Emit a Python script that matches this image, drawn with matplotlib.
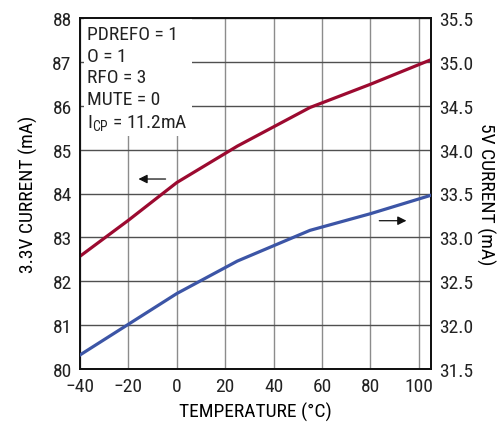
import numpy as np
import matplotlib
matplotlib.use('Agg')
import matplotlib.pyplot as plt
from matplotlib.patches import Rectangle

# data
temp = [-40, -20, 0, 25, 55, 80, 105]
i33 = [82.57, 83.39, 84.25, 85.08, 85.96, 86.49, 87.05]   # left axis
i5 = [31.66, 32.01, 32.36, 32.73, 33.08, 33.27, 33.48]    # right axis

xticks = [-40, -20, 0, 20, 40, 60, 80, 100]
lticks = [80, 81, 82, 83, 84, 85, 86, 87, 88]
rticks = [31.5, 32.0, 32.5, 33.0, 33.5, 34.0, 34.5, 35.0, 35.5]
notes = ['PDREFO = 1', 'O = 1', 'RFO = 3', 'MUTE = 0', r'$\mathrm{I_{CP}}$ = 11.2mA']

fs = 14
fam = ['Roboto Condensed', 'DejaVu Sans']
plt.rcParams['font.family'] = fam
plt.rcParams['mathtext.fontset'] = 'custom'
plt.rcParams['mathtext.rm'] = 'Roboto Condensed'
plt.rcParams['font.size'] = fs
plt.rcParams['text.color'] = '#222222'

fig = plt.figure(figsize=(5.04, 4.27), dpi=100)
ax = fig.add_axes([80/504, 1-370/427, 351/504, 351/427])
ax2 = ax.twinx()

red = '#9c0a30'
blue = '#3c55a6'
ax.plot(temp, i33, color=red, lw=2.3, zorder=3)
ax2.plot(temp, i5, color=blue, lw=2.3, zorder=3)

ax.set_xlim(-40, 105)
ax.set_ylim(80, 88)
ax2.set_ylim(31.5, 35.5)
ax.set_xticks(xticks)
ax.set_yticks(lticks)
ax2.set_yticks(rticks)
ax2.set_yticklabels(['%.1f' % v for v in rticks])

ax.set_axisbelow(True)
ax.xaxis.grid(True, color='#8c8c8c', lw=1.0)
ax.yaxis.grid(True, color='#505050', lw=1.0)
for a in (ax, ax2):
    a.tick_params(direction='in', length=0, colors='#222222', labelsize=fs, pad=6)
    for s in a.spines.values():
        s.set_linewidth(1.3)
        s.set_color('#111111')

# white box behind the settings text
ax.add_patch(Rectangle((0.012, (370-137)/351), (192-80)/351 - 0.012, 1.0, transform=ax.transAxes,
                       facecolor='white', edgecolor='none', zorder=1))
for k, t in enumerate(notes):
    ax.text(0.02, 0.98 - k*0.0618, t, transform=ax.transAxes, ha='left', va='top',
            fontsize=fs, zorder=4)

ax.annotate('', xy=(-17, 84.33), xytext=(-3.5, 84.33),
            arrowprops=dict(arrowstyle='-|>', color='#111111', lw=0.9, mutation_scale=13), zorder=4)
ax.annotate('', xy=(96, 83.38), xytext=(82.5, 83.38),
            arrowprops=dict(arrowstyle='-|>', color='#111111', lw=0.9, mutation_scale=13), zorder=4)

ax.set_xlabel('TEMPERATURE (°C)', fontsize=fs, labelpad=5)
ax.set_ylabel('3.3V CURRENT (mA)', fontsize=fs, labelpad=10)
ax2.set_ylabel('5V CURRENT (mA)', fontsize=fs, rotation=270, labelpad=16)

fig.savefig('out.png', dpi=100)
